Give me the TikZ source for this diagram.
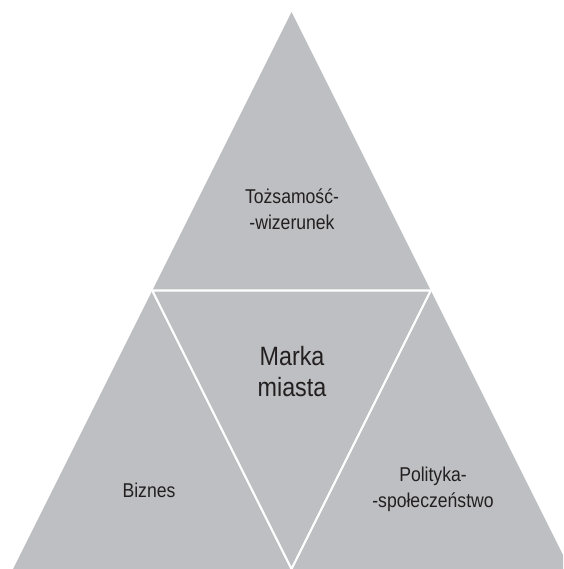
\documentclass[tikz,border=0pt]{standalone}
\usepackage{fontspec}
\setmainfont[FakeStretch=0.88]{Liberation Sans}
\usepackage{tikz}
\usetikzlibrary{calc}
\definecolor{pgray}{RGB}{190,191,194}
\definecolor{ptext}{RGB}{35,31,32}
\tikzset{Part/.style={fill=pgray, draw=none}}
\tikzset{Gap/.style={draw=white, line width=2.2pt, line join=miter}}
\tikzset{Lbl/.style={align=center, text=ptext, inner sep=0pt,
    font=\fontsize{20}{26}\selectfont}}
\tikzset{Big/.style={Lbl, font=\fontsize{26.5}{31}\selectfont}}

\begin{document}
\begin{tikzpicture}[x=1pt, y=-1pt]
    \useasboundingbox (0,0) rectangle (563,569);
    \clip (0,0) rectangle (563,569);

    %% Corners of the pyramid
    \coordinate (top) at (291.5,12);
    \coordinate (bl) at (13,569);
    \coordinate (br) at (570,569);
    \coordinate (ml) at ($(top)!0.5!(bl)$);
    \coordinate (mr) at ($(top)!0.5!(br)$);
    \coordinate (mb) at ($(bl)!0.5!(br)$);

    %% The four parts
    \fill[Part] (top) -- (ml) -- (mr) -- cycle;
    \fill[Part] (ml) -- (bl) -- (mb) -- cycle;
    \fill[Part] (mr) -- (mb) -- (br) -- cycle;
    \fill[Part] (ml) -- (mr) -- (mb) -- cycle;
    \draw[Gap] (ml) -- (mr) -- (mb) -- cycle;

    %% Labels
    \node[Lbl] (ident) at (292,209) {Tożsamość-\\-wizerunek};
    \node[Big] (brand) at (292,371.5) {Marka\\miasta};
    \node[Lbl] (biz) at (149,490) {Biznes};
    \node[Lbl] (pol) at (433,489) {Polityka-\\-społeczeństwo};
\end{tikzpicture}
\end{document}
